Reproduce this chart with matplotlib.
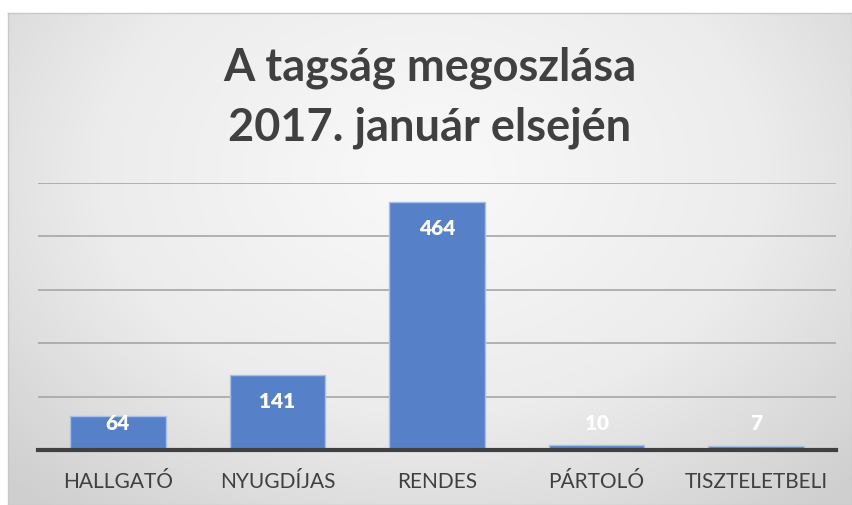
import numpy as np
import matplotlib.pyplot as plt
from matplotlib.colors import LinearSegmentedColormap

categories = ['HALLGATÓ', 'NYUGDÍJAS', 'RENDES', 'PÁRTOLÓ', 'TISZTELETBELI']
values = [64, 141, 464, 10, 7]
title = 'A tagság megoszlása\n2017. január elsején'

plt.rcParams['font.family'] = ['Lato', 'DejaVu Sans']

fig = plt.figure(figsize=(8.53, 5.05), dpi=100)

# chart area with radial gradient background
bg = fig.add_axes([8 / 853, 0, 844 / 853, 492 / 505], zorder=0)
yy, xx = np.mgrid[0:1:300j, 0:1:500j]
r = np.sqrt(((xx - 0.5) / 0.75) ** 2 + ((yy - 0.68) / 0.95) ** 2)
cmap = LinearSegmentedColormap.from_list('bg', ['#f7f7f7', '#ececec', '#cfcfcf'])
bg.imshow(r, cmap=cmap, aspect='auto', origin='lower', extent=[0, 1, 0, 1],
          vmin=0.1, vmax=0.95, interpolation='bilinear')
bg.set_xlim(0, 1)
bg.set_ylim(0, 1)
bg.set_xticks([])
bg.set_yticks([])
for s in bg.spines.values():
    s.set_color('#c8c8c8')
    s.set_linewidth(1)

bg.text(0.5, 0.828, title, ha='center', va='center', fontsize=32.5, fontweight='bold',
        color='#404040', linespacing=1.5, transform=bg.transAxes)

# plot area
ax = fig.add_axes([38 / 853, (505 - 450) / 505, 798 / 853, 267 / 505], zorder=1)
ax.patch.set_alpha(0)
x = np.arange(len(categories))
ax.bar(x, values, width=0.6, color='#5681c9', edgecolor='#a9c0e6', linewidth=1, zorder=2)
ax.set_xlim(-0.5, len(categories) - 0.5)
ax.set_ylim(0, 500)
ax.set_yticks([100, 200, 300, 400, 500])
ax.yaxis.grid(True, color='#a6a6a6', linewidth=1.2)
ax.set_axisbelow(True)
ax.tick_params(axis='y', left=False, labelleft=False)
ax.tick_params(axis='x', bottom=False, labelsize=15, labelcolor='#404040', pad=12)
ax.set_xticks(x)
ax.set_xticklabels(categories)
for name, s in ax.spines.items():
    s.set_visible(name == 'bottom')
ax.spines['bottom'].set_color('#404040')
ax.spines['bottom'].set_linewidth(3)
ax.spines['bottom'].set_zorder(3)

for xi, v in zip(x, values):
    ly = max(v - 50, 48.7)
    ax.text(xi, ly, str(v), ha='center', va='center', fontsize=15, fontweight='heavy',
            color='white', zorder=4)

fig.savefig('out.png', dpi=100)
